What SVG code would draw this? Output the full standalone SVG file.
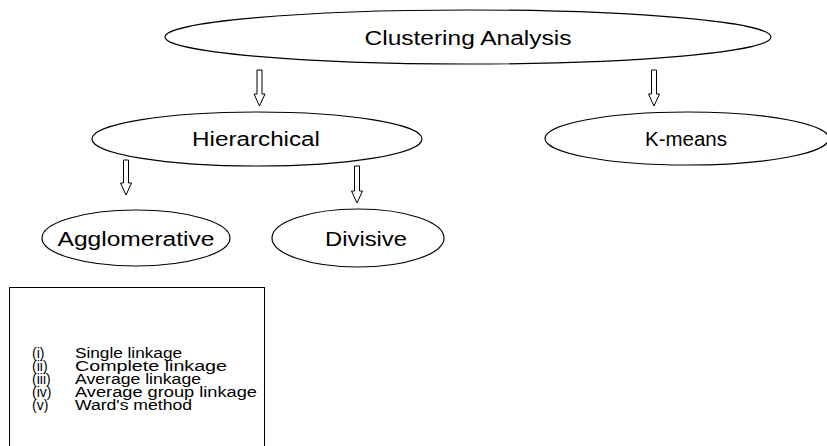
<svg xmlns="http://www.w3.org/2000/svg" width="827" height="446" viewBox="0 0 827 446">
<style>
.node ellipse{fill:#fff;stroke:#000;stroke-width:1.2}
.lbl{font-family:"Liberation Sans",Arial,sans-serif;font-size:20px;fill:#000;text-anchor:middle}
.arrow{fill:#fff;stroke:#000;stroke-width:1}
.list{font-family:"Liberation Sans",Arial,sans-serif;font-size:14px;fill:#000}
</style>
<rect width="827" height="446" fill="#fff"/>
<g id="connectors">
<path class="arrow" d="M257,70 V94 H254 L259.5,106 L265,94 H262 V70 Z"/>
<path class="arrow" d="M651.5,70 V94 H648.5 L654,106 L659.5,94 H656.5 V70 Z"/>
<path class="arrow" d="M123.5,160 V183 H120.5 L126,195 L131.5,183 H128.5 V160 Z"/>
<path class="arrow" d="M354.5,166 V191 H351.5 L357,203 L362.5,191 H359.5 V166 Z"/>
</g>
<g id="clustering" class="node">
<ellipse cx="468" cy="37" rx="303" ry="27"/>
<text class="lbl" x="468" y="45" textLength="207" lengthAdjust="spacingAndGlyphs">Clustering Analysis</text>
</g>
<g id="hierarchical" class="node">
<ellipse cx="257" cy="139" rx="165" ry="27"/>
<text class="lbl" x="256" y="146" textLength="128" lengthAdjust="spacingAndGlyphs">Hierarchical</text>
</g>
<g id="kmeans" class="node">
<ellipse cx="687" cy="138.5" rx="142" ry="26.5"/>
<text class="lbl" x="686" y="146" textLength="82" lengthAdjust="spacingAndGlyphs">K-means</text>
</g>
<g id="agglomerative" class="node">
<ellipse cx="136" cy="238" rx="94" ry="28"/>
<text class="lbl" x="136" y="246" textLength="157" lengthAdjust="spacingAndGlyphs">Agglomerative</text>
</g>
<g id="divisive" class="node">
<ellipse cx="358" cy="238" rx="86" ry="29"/>
<text class="lbl" x="366" y="246" textLength="82" lengthAdjust="spacingAndGlyphs">Divisive</text>
</g>
<g id="methods">
<rect x="9.5" y="287.5" width="255" height="170" fill="#fff" stroke="#000" stroke-width="1"/>
<text class="list"><tspan x="32" y="358">(i)</tspan><tspan x="75" y="358" textLength="107" lengthAdjust="spacingAndGlyphs">Single linkage</tspan><tspan x="32" y="371">(ii)</tspan><tspan x="75" y="371" textLength="152" lengthAdjust="spacingAndGlyphs">Complete linkage</tspan><tspan x="32" y="384">(iii)</tspan><tspan x="75" y="384" textLength="126" lengthAdjust="spacingAndGlyphs">Average linkage</tspan><tspan x="32" y="397">(iv)</tspan><tspan x="75" y="397" textLength="182" lengthAdjust="spacingAndGlyphs">Average group linkage</tspan><tspan x="32" y="410">(v)</tspan><tspan x="75" y="410" textLength="117" lengthAdjust="spacingAndGlyphs">Ward's method</tspan></text>
</g>
</svg>
